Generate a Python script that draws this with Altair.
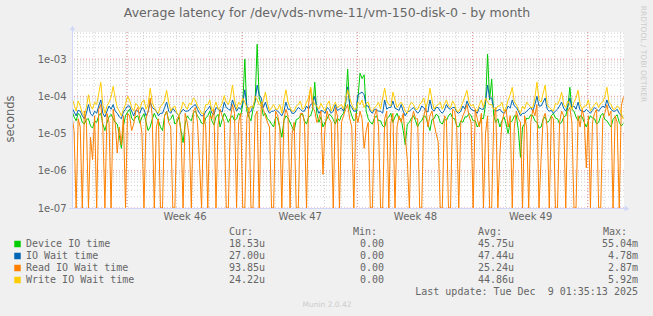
import json
import altair as alt
import pandas as pd

# ---------------- data (microseconds) ----------------
STEP_DAYS = 0.125  # one sample every 3 hours

device_io_us = [
    40, 28, 22, 35, 30, 20, 18, 24, 25, 16, 14, 22, 20, 30, 35, 18, 12, 20, 28, 33,
    25, 20, 18, 9, 4, 16, 30, 38, 45, 26, 22, 28, 30, 19, 28, 34, 20, 12, 15, 24,
    35, 26, 22, 15, 12, 30, 40, 22, 25, 32, 18, 20, 28, 12, 5.7, 18, 30, 25, 22, 36,
    40, 30, 25, 19, 18, 26, 30, 40, 22, 17, 28, 33, 15, 24, 35, 28, 20, 26, 30, 22,
    25, 35, 30, 60, 1000, 40, 28, 22, 45, 70, 2500, 90, 60, 30, 35, 25, 22, 18, 15, 28,
    25, 14, 8, 22, 30, 26, 20, 15, 12, 24, 25, 30, 35, 22, 18, 28, 30, 45, 240, 35,
    20, 28, 15, 20, 25, 33, 30, 24, 18, 26, 22, 30, 35, 60, 540, 45, 30, 22, 25, 90,
    420, 300, 380, 40, 25, 20, 18, 26, 30, 22, 22, 16, 15, 25, 28, 35, 20, 28, 35, 24,
    25, 12, 5, 18, 20, 26, 30, 22, 15, 20, 22, 30, 28, 18, 12, 24, 25, 33, 30, 20,
    18, 25, 22, 30, 35, 26, 25, 16, 15, 22, 20, 28, 28, 35, 30, 22, 22, 15, 18, 26,
    25, 60, 1360, 80, 290, 30, 20, 25, 15, 22, 28, 18, 10, 20, 22, 30, 30, 12, 2.3, 15,
    18, 26, 25, 32, 30, 22, 20, 14, 15, 24, 28, 20, 22, 30, 35, 26, 25, 18, 20, 28,
    30, 50, 175, 45, 40, 28, 22, 30, 28, 20, 15, 22, 30, 26, 25, 18, 20, 30, 35, 24,
    22, 18, 15, 24, 28, 32, 20, 16, 18.53,
]
io_wait_us = [
    50, 38, 30, 42, 40, 30, 25, 35, 60, 34, 30, 40, 35, 55, 80, 35, 28, 40, 55, 45,
    60, 40, 35, 28, 25, 38, 45, 55, 55, 40, 30, 42, 40, 35, 50, 45, 30, 38, 70, 50,
    45, 40, 30, 35, 35, 50, 70, 40, 35, 48, 40, 35, 30, 38, 45, 40, 40, 42, 50, 55,
    60, 45, 35, 30, 30, 40, 45, 55, 35, 32, 50, 45, 40, 38, 70, 50, 45, 42, 80, 55,
    40, 50, 45, 65, 150, 55, 35, 40, 55, 75, 200, 110, 90, 50, 70, 45, 35, 40, 40, 45,
    40, 35, 30, 40, 70, 45, 45, 35, 35, 42, 50, 45, 40, 40, 55, 45, 60, 65, 100, 50,
    35, 42, 40, 35, 50, 45, 35, 40, 60, 42, 45, 48, 40, 70, 180, 60, 50, 40, 40, 110,
    120, 130, 110, 55, 55, 40, 35, 45, 45, 40, 40, 35, 80, 45, 50, 50, 75, 48, 45, 42,
    60, 40, 30, 38, 40, 45, 50, 42, 35, 40, 55, 50, 40, 38, 80, 45, 40, 50, 50, 40,
    35, 42, 60, 48, 45, 50, 50, 38, 35, 40, 55, 45, 75, 55, 45, 42, 40, 35, 50, 45,
    45, 70, 200, 90, 90, 45, 40, 42, 45, 38, 35, 40, 55, 48, 80, 55, 50, 40, 30, 35,
    35, 40, 45, 50, 40, 60, 100, 55, 55, 70, 90, 45, 40, 42, 35, 40, 45, 55, 70, 48,
    40, 55, 90, 50, 55, 45, 70, 42, 40, 38, 45, 40, 35, 42, 50, 45, 40, 48, 55, 50,
    80, 55, 45, 40, 40, 45, 35, 30, 27,
]
read_wait_us = [
    30, 12, 0, 25, 15, 0, 40, 20, 0, 8, 2, 30, 0, 45, 60, 15, 0, 35, 20, 0,
    45, 20, 3, 15, 5, 30, 0, 35, 30, 12, 18, 40, 50, 25, 10, 0, 25, 40, 90, 30,
    0, 15, 25, 0, 0, 30, 40, 20, 15, 0, 0, 25, 30, 10, 0, 35, 20, 8, 0, 40,
    50, 20, 1.5, 0, 35, 15, 0, 30, 25, 45, 0, 18, 45, 30, 20, 0, 0, 25, 60, 35,
    0, 20, 35, 0, 0, 25, 50, 0, 0, 30, 40, 0, 70, 45, 30, 20, 15, 0, 0, 40,
    30, 15, 0, 25, 45, 30, 0, 10, 20, 0, 0, 35, 35, 20, 0, 60, 175, 50, 40, 20,
    25, 40, 0.8, 15, 40, 25, 20, 0, 50, 30, 0, 20, 30, 45, 60, 25, 15, 0, 35, 20,
    40, 25, 4, 12, 20, 0, 0, 30, 45, 15, 0, 0, 25, 40, 0, 20, 35, 0, 15, 30,
    20, 35, 8, 2, 0, 20, 40, 25, 25, 0, 0, 30, 50, 15, 30, 40, 18, 10, 6, 0,
    0, 30, 25, 0, 0, 45, 40, 15, 0, 20, 30, 40, 60, 30, 20, 0, 45, 25, 15, 35,
    0, 10, 30, 0, 0, 25, 50, 0, 3, 20, 35, 45, 15, 30, 0, 15, 40, 25, 20, 0,
    30, 15, 0, 20, 45, 30, 60, 0, 2, 25, 35, 15, 0, 30, 25, 0, 0, 20, 40, 30,
    0, 40, 50, 20, 0, 0, 30, 15, 45, 25, 1.2, 30, 0, 20, 35, 45, 0, 0, 25, 35,
    60, 30, 40, 0, 30, 20, 0, 55, 93.85,
]
write_wait_us = [
    90, 60, 40, 75, 55, 35, 30, 50, 110, 55, 45, 70, 60, 120, 240, 60, 35, 55, 70, 95,
    185, 90, 50, 40, 30, 45, 60, 100, 80, 50, 40, 65, 55, 45, 70, 80, 45, 60, 165, 70,
    50, 40, 35, 55, 60, 80, 145, 70, 40, 50, 55, 35, 30, 45, 70, 55, 45, 65, 60, 90,
    80, 55, 45, 35, 35, 60, 60, 80, 40, 50, 70, 45, 50, 65, 105, 70, 60, 90, 200, 80,
    45, 70, 60, 90, 70, 50, 40, 55, 50, 100, 80, 60, 55, 75, 130, 65, 40, 50, 60, 45,
    45, 60, 35, 80, 150, 70, 50, 40, 40, 55, 60, 75, 45, 50, 70, 90, 175, 80, 60, 55,
    45, 65, 50, 40, 60, 75, 40, 55, 70, 50, 55, 60, 45, 80, 150, 90, 60, 45, 45, 70,
    60, 80, 50, 65, 70, 45, 40, 50, 55, 70, 45, 90, 165, 75, 60, 55, 130, 80, 50, 60,
    70, 55, 40, 35, 55, 70, 60, 45, 45, 60, 70, 90, 50, 75, 165, 80, 45, 55, 60, 70,
    45, 60, 80, 55, 50, 75, 60, 40, 40, 50, 70, 100, 145, 70, 55, 60, 45, 40, 60, 80,
    50, 90, 70, 60, 60, 45, 45, 55, 55, 70, 40, 50, 80, 110, 175, 70, 60, 45, 35, 55,
    45, 70, 60, 50, 50, 90, 240, 80, 70, 120, 200, 60, 50, 45, 40, 65, 60, 80, 130, 60,
    50, 75, 60, 45, 70, 90, 145, 60, 45, 55, 55, 80, 40, 50, 60, 70, 50, 65, 70, 100,
    175, 70, 60, 45, 45, 55, 50, 35, 24.22,
]

series_names = ["Device IO time", "IO Wait time", "Read IO Wait time", "Write IO Wait time"]
series_colors = ["#00cc00", "#0066b3", "#ff8000", "#ffcc00"]
series_values = [device_io_us, io_wait_us, read_wait_us, write_wait_us]

cur_vals = ["18.53u", "27.00u", "93.85u", "24.22u"]
min_vals = ["0.00", "0.00", "0.00", "0.00"]
avg_vals = ["45.75u", "47.44u", "25.24u", "44.86u"]
max_vals = ["55.04m", "4.78m", "2.87m", "5.92m"]

week_labels = ["Week 46", "Week 47", "Week 48", "Week 49"]
week_label_days = [6.84, 13.84, 20.84, 27.84]
week_start_days = [3.34, 10.34, 17.34, 24.34, 31.34]
day_grid_days = [0.34 + k for k in range(34)]
decade_ticks = [1e-7, 1e-6, 1e-5, 1e-4, 1e-3]

title_text = "Average latency for /dev/vds-nvme-11/vm-150-disk-0 - by month"
y_title = "seconds"
last_update = "Last update: Tue Dec\u00a0 9 01:35:13 2025"
munin_ver = "Munin 2.0.42"
rrd_credit = "RRDTOOL / TOBI OETIKER"

# ---------------- layout ----------------
W, H = 552, 176
X_MAX = 33.54
Y_MIN, Y_MAX = 1e-7, 5.35e-3
FONT = "DejaVu Sans"
MONO = "DejaVu Sans Mono"
FONT_COLOR = "#666666"
AXIS_COLOR = "#cfd6f8"
GRID_COLOR = "#cfcfcf"
MGRID_COLOR = "#e89494"

minor_y = [m * 10.0 ** e for e in range(-7, -2) for m in range(2, 10) if m * 10.0 ** e < Y_MAX]

xs = alt.Scale(domain=[0, X_MAX], nice=False, zero=False)
ys = alt.Scale(type="log", domain=[Y_MIN, Y_MAX], clamp=True, nice=False)

rows = []
for name, vals in zip(series_names, series_values):
    for i, v in enumerate(vals):
        rows.append({"series": name, "day": i * STEP_DAYS, "us": v})
df = pd.DataFrame(rows)

layers = []

# grid
layers.append(
    alt.Chart(pd.DataFrame({"y": minor_y})).mark_rule(color=GRID_COLOR, strokeDash=[1, 2], strokeWidth=1)
    .encode(y=alt.Y("y:Q", scale=ys, axis=None))
)
layers.append(
    alt.Chart(pd.DataFrame({"d": day_grid_days})).mark_rule(color=GRID_COLOR, strokeDash=[1, 2], strokeWidth=1)
    .encode(x=alt.X("d:Q", scale=xs, axis=None))
)
layers.append(
    alt.Chart(pd.DataFrame({"y": decade_ticks})).mark_rule(color=MGRID_COLOR, strokeDash=[1, 2], strokeWidth=1)
    .encode(y=alt.Y("y:Q", scale=ys, axis=None))
)
layers.append(
    alt.Chart(pd.DataFrame({"d": week_start_days})).mark_rule(color=MGRID_COLOR, strokeDash=[1, 2], strokeWidth=1)
    .encode(x=alt.X("d:Q", scale=xs, axis=None))
)

# series lines
y_axis = alt.Axis(
    values=decade_ticks,
    labelExpr="'1e-0' + format(-log(datum.value)/LN10, '.0f')",
    title=None, ticks=False, domain=False, grid=False,
    labelFont=FONT, labelFontSize=10, labelColor=FONT_COLOR, labelPadding=6,
)
x_axis = alt.Axis(
    values=week_label_days,
    labelExpr=f"{json.dumps(week_labels)}[round((datum.value - {week_label_days[0]}) / 7)]",
    title=None, ticks=False, domain=False, grid=False,
    labelFont=FONT, labelFontSize=10, labelColor=FONT_COLOR, labelPadding=3,
)
for k, (name, color) in enumerate(zip(series_names, series_colors)):
    layers.append(
        alt.Chart(df).transform_filter(alt.datum.series == name)
        .transform_calculate(sec="max(datum.us, 0.0001) * 1e-6")
        .mark_line(color=color, strokeWidth=1, clip=True)
        .encode(
            x=alt.X("day:Q", scale=xs, axis=x_axis if k == 0 else None),
            y=alt.Y("sec:Q", scale=ys, axis=y_axis if k == 0 else None),
        )
    )

# axis lines and arrows
layers.append(
    alt.Chart(pd.DataFrame({"a": [0]})).mark_rule(color=AXIS_COLOR, strokeWidth=1)
    .encode(x=alt.value(0.5), y=alt.value(-3), y2=alt.value(H))
)
layers.append(
    alt.Chart(pd.DataFrame({"a": [0]})).mark_rule(color=AXIS_COLOR, strokeWidth=1)
    .encode(x=alt.value(-3), x2=alt.value(W + 2), y=alt.value(H + 0.5))
)
layers.append(
    alt.Chart(pd.DataFrame({"a": [0]})).mark_point(shape="triangle-up", filled=True, size=30, color=AXIS_COLOR, opacity=1)
    .encode(x=alt.value(0.5), y=alt.value(-4))
)
layers.append(
    alt.Chart(pd.DataFrame({"a": [0]})).mark_point(shape="triangle-right", filled=True, size=30, color=AXIS_COLOR, opacity=1)
    .encode(x=alt.value(W + 3), y=alt.value(H + 0.5))
)

# titles and credits
layers.append(
    alt.Chart(pd.DataFrame({"t": [title_text]})).mark_text(font=FONT, fontSize=12.5, color=FONT_COLOR, align="center", baseline="middle")
    .encode(x=alt.value(255), y=alt.value(-19), text="t:N")
)
layers.append(
    alt.Chart(pd.DataFrame({"t": [y_title]})).mark_text(font=FONT, fontSize=11.5, color=FONT_COLOR, align="center", baseline="middle", angle=270)
    .encode(x=alt.value(-61), y=alt.value(87), text="t:N")
)
layers.append(
    alt.Chart(pd.DataFrame({"t": [rrd_credit]})).mark_text(font=FONT, fontSize=7.5, color="#cccccc", align="center", baseline="middle", angle=90)
    .encode(x=alt.value(571), y=alt.value(22), text="t:N")
)
layers.append(
    alt.Chart(pd.DataFrame({"t": [munin_ver]})).mark_text(font=FONT, fontSize=7.5, color="#cccccc", align="center", baseline="middle")
    .encode(x=alt.value(255), y=alt.value(273), text="t:N")
)
layers.append(
    alt.Chart(pd.DataFrame({"t": [last_update]})).mark_text(font=MONO, fontSize=10, color=FONT_COLOR, align="right", baseline="middle")
    .encode(x=alt.value(566), y=alt.value(260), text="t:N")
)

# legend table
for label, xpos in zip(["Cur:", "Min:", "Avg:", "Max:"], [157, 281, 406, 531]):
    layers.append(
        alt.Chart(pd.DataFrame({"t": [label]})).mark_text(font=MONO, fontSize=10, color=FONT_COLOR, align="left", baseline="middle")
        .encode(x=alt.value(xpos), y=alt.value(200), text="t:N")
    )

leg = pd.DataFrame({
    "row": list(range(len(series_names))),
    "name": series_names, "color": series_colors,
    "cur": cur_vals, "mn": min_vals, "avg": avg_vals, "mx": max_vals,
})
leg_base = alt.Chart(leg).transform_calculate(ry="212 + 12 * datum.row")
layers.append(
    leg_base.mark_square(size=42, filled=True, opacity=1)
    .encode(x=alt.value(-54.5), y=alt.Y("ry:Q", scale=None), color=alt.Color("color:N", scale=None))
)
layers.append(
    leg_base.mark_text(font=MONO, fontSize=10, color=FONT_COLOR, align="left", baseline="middle")
    .encode(x=alt.value(-46), y=alt.Y("ry:Q", scale=None), text="name:N")
)
for field, xpos in [("cur", 193), ("mn", 312), ("avg", 442), ("mx", 566)]:
    layers.append(
        leg_base.mark_text(font=MONO, fontSize=10, color=FONT_COLOR, align="right", baseline="middle")
        .encode(x=alt.value(xpos), y=alt.Y("ry:Q", scale=None), text=f"{field}:N")
    )

chart = (
    alt.layer(*layers)
    .resolve_axis(x="independent", y="independent")
    .properties(
        width=W, height=H,
        autosize=alt.AutoSizeParams(type="none"),
        padding={"left": 72, "top": 32, "right": 29, "bottom": 108},
    )
    .configure(background="#f0f0f0")
    .configure_view(fill="white", stroke=None)
)

chart.save("out.html", embed_options={"renderer": "svg", "actions": False})
